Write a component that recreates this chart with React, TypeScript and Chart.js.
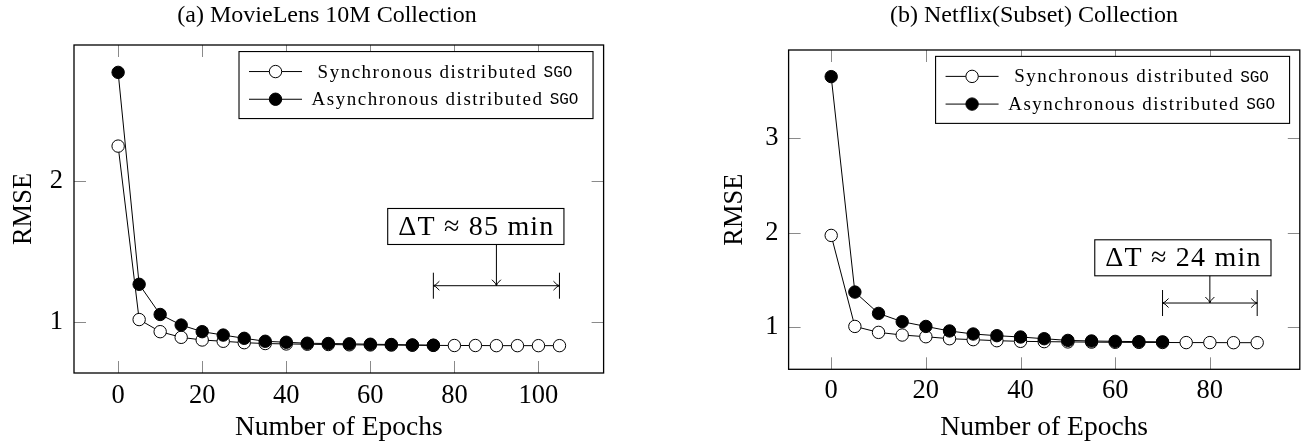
import React, { useEffect, useRef } from "react";
import { Chart, registerables } from "chart.js";
Chart.register(...registerables);

const SERIF = '"Liberation Serif", "Times New Roman", serif';
const MONO = '"Liberation Mono", "DejaVu Sans Mono", monospace';

// ---------- data ----------
const movieSyncEpochs = [0, 5, 10, 15, 20, 25, 30, 35, 40, 45, 50, 55, 60, 65, 70, 75, 80, 85, 90, 95, 100, 105];
const movieSyncRmse = [2.25, 1.02, 0.934, 0.894, 0.875, 0.866, 0.856, 0.85, 0.847, 0.845, 0.843, 0.841, 0.84, 0.839, 0.838, 0.837, 0.836, 0.836, 0.835, 0.835, 0.835, 0.835];
const movieAsyncEpochs = [0, 5, 10, 15, 20, 25, 30, 35, 40, 45, 50, 55, 60, 65, 70, 75];
const movieAsyncRmse = [2.773, 1.27, 1.056, 0.981, 0.934, 0.91, 0.887, 0.866, 0.859, 0.852, 0.85, 0.848, 0.845, 0.843, 0.84, 0.838];

const netflixSyncEpochs = [0, 5, 10, 15, 20, 25, 30, 35, 40, 45, 50, 55, 60, 65, 70, 75, 80, 85, 90];
const netflixSyncRmse = [1.97, 1.006, 0.943, 0.915, 0.897, 0.876, 0.866, 0.855, 0.848, 0.845, 0.842, 0.84, 0.838, 0.837, 0.836, 0.835, 0.835, 0.834, 0.834];
const netflixAsyncEpochs = [0, 5, 10, 15, 20, 25, 30, 35, 40, 45, 50, 55, 60, 65, 70];
const netflixAsyncRmse = [3.652, 1.37, 1.144, 1.056, 1.006, 0.958, 0.926, 0.908, 0.894, 0.876, 0.858, 0.852, 0.848, 0.845, 0.843];

const movieXTicks = [0, 20, 40, 60, 80, 100];
const movieYTicks = [1, 2];
const netflixXTicks = [0, 20, 40, 60, 80];
const netflixYTicks = [1, 2, 3];

const seriesNames = ["Synchronous distributed", "Asynchronous distributed"];
const seriesSuffix = "SGO";
const xAxisTitle = "Number of Epochs";
const yAxisTitle = "RMSE";
const movieTitle = "(a) MovieLens 10M Collection";
const netflixTitle = "(b) Netflix(Subset) Collection";
const movieDelta = "ΔT ≈ 85 min";
const netflixDelta = "ΔT ≈ 24 min";

// ---------- panel configuration ----------
type Annot = { text: string; boxX: number; boxY: number; arrowX: number; x1: number; x2: number; lineY: number };
type PanelCfg = {
  left: number; width: number;
  area: { l: number; t: number; r: number; b: number };
  xMin: number; xMax: number; yMin: number; yMax: number;
  xTicks: number[]; yTicks: number[];
  syncX: number[]; syncY: number[]; asyncX: number[]; asyncY: number[];
  title: string; titleX: number; titleY: number;
  yTitlePad: number; yTickPad: number; xTickPad: number;
  annot: Annot;
};

const H = 444;

const movieCfg: PanelCfg = {
  left: 0, width: 650,
  area: { l: 74, t: 45, r: 603.6, b: 373 },
  xMin: -10.5, xMax: 115.5, yMin: 0.641, yMax: 2.967,
  xTicks: movieXTicks, yTicks: movieYTicks,
  syncX: movieSyncEpochs, syncY: movieSyncRmse, asyncX: movieAsyncEpochs, asyncY: movieAsyncRmse,
  title: movieTitle, titleX: 327, titleY: 16,
  yTitlePad: 7.7, yTickPad: 11, xTickPad: 7,
  annot: { text: movieDelta, boxX: 85.1, boxY: 1.68, arrowX: 90, x1: 75, x2: 105, lineY: 1.26 },
};

const netflixCfg: PanelCfg = {
  left: 655, width: 652,
  area: { l: 133.6, t: 50, r: 649, b: 369.3 },
  xMin: -9, xMax: 99, yMin: 0.552, yMax: 3.934,
  xTicks: netflixXTicks, yTicks: netflixYTicks,
  syncX: netflixSyncEpochs, syncY: netflixSyncRmse, asyncX: netflixAsyncEpochs, asyncY: netflixAsyncRmse,
  title: netflixTitle, titleX: 379, titleY: 16,
  yTitlePad: 64.4, yTickPad: 10, xTickPad: 6,
  annot: { text: netflixDelta, boxX: 74.3, boxY: 1.733, arrowX: 80, x1: 70, x2: 90, lineY: 1.254 },
};

function arrowHead(ctx: CanvasRenderingContext2D, x: number, y: number, dx: number, dy: number) {
  const len = 6, wid = 4.5;
  const px = -dy, py = dx;
  ctx.beginPath();
  ctx.moveTo(x - dx * len + px * wid, y - dy * len + py * wid);
  ctx.quadraticCurveTo(x - dx * 2, y - dy * 2, x, y);
  ctx.quadraticCurveTo(x - dx * 2, y - dy * 2, x - dx * len - px * wid, y - dy * len - py * wid);
  ctx.stroke();
}

function makeOverlay(cfg: PanelCfg) {
  return {
    id: "overlay",
    afterDraw(chart: any) {
      const ctx: CanvasRenderingContext2D = chart.ctx;
      const ca = chart.chartArea;
      const xs = chart.scales.x;
      const ys = chart.scales.y;
      ctx.save();
      // inside tick marks on all four sides
      ctx.strokeStyle = "#8a8a8a";
      ctx.lineWidth = 1;
      const tl = 12;
      for (const v of cfg.xTicks) {
        const px = Math.round(xs.getPixelForValue(v)) + 0.5;
        ctx.beginPath();
        ctx.moveTo(px, ca.bottom); ctx.lineTo(px, ca.bottom - tl);
        ctx.moveTo(px, ca.top); ctx.lineTo(px, ca.top + tl);
        ctx.stroke();
      }
      for (const v of cfg.yTicks) {
        const py = Math.round(ys.getPixelForValue(v)) + 0.5;
        ctx.beginPath();
        ctx.moveTo(ca.left, py); ctx.lineTo(ca.left + tl, py);
        ctx.moveTo(ca.right, py); ctx.lineTo(ca.right - tl, py);
        ctx.stroke();
      }
      // frame
      ctx.strokeStyle = "#000";
      ctx.lineWidth = 1.3;
      ctx.strokeRect(ca.left, ca.top, ca.right - ca.left, ca.bottom - ca.top);

      // title
      ctx.fillStyle = "#000";
      ctx.font = `24px ${SERIF}`;
      ctx.textAlign = "center";
      ctx.textBaseline = "middle";
      ctx.fillText(cfg.title, cfg.titleX, cfg.titleY);

      // legend (anchored at 98% / 98% of the axis box)
      const w = ca.right - ca.left, h = ca.bottom - ca.top;
      const lr = ca.right - 0.02 * w;
      const lt = ca.top + 0.02 * h;
      const lw = 354, lh = 67;
      const ll = lr - lw;
      ctx.fillStyle = "#fff";
      ctx.fillRect(ll, lt, lw, lh);
      ctx.strokeStyle = "#000";
      ctx.lineWidth = 1.1;
      ctx.strokeRect(ll, lt, lw, lh);
      for (let i = 0; i < 2; i++) {
        const ry = lt + 20 + i * 27.7;
        ctx.strokeStyle = "#000";
        ctx.lineWidth = 1;
        ctx.beginPath();
        ctx.moveTo(ll + 10, ry); ctx.lineTo(ll + 63, ry);
        ctx.stroke();
        ctx.beginPath();
        ctx.arc(ll + 36.5, ry, 6.2, 0, Math.PI * 2);
        ctx.fillStyle = i === 0 ? "#fff" : "#000";
        ctx.fill();
        ctx.stroke();
        ctx.textAlign = "left";
        ctx.textBaseline = "middle";
        ctx.fillStyle = "#000";
        (ctx as any).letterSpacing = "1.5px";
        ctx.font = `19px ${SERIF}`;
        const main = seriesNames[i] + " ";
        const mw = ctx.measureText(main).width;
        (ctx as any).letterSpacing = "0px";
        ctx.font = `16px ${MONO}`;
        const sw = ctx.measureText(seriesSuffix).width;
        const areaL = ll + 68, areaR = lr - 10;
        const sx = areaL + (areaR - areaL - (mw + sw)) / 2;
        (ctx as any).letterSpacing = "1.5px";
        ctx.font = `19px ${SERIF}`;
        ctx.fillText(main, sx, ry + 1);
        (ctx as any).letterSpacing = "0px";
        ctx.font = `16px ${MONO}`;
        ctx.fillText(seriesSuffix, sx + mw, ry + 1);
      }

      // annotation
      const a = cfg.annot;
      (ctx as any).letterSpacing = "1.2px";
      ctx.font = `28px ${SERIF}`;
      const tw = ctx.measureText(a.text).width;
      const bw = tw + 20, bh = 36;
      const bcx = xs.getPixelForValue(a.boxX), bcy = ys.getPixelForValue(a.boxY);
      ctx.fillStyle = "#fff";
      ctx.fillRect(bcx - bw / 2, bcy - bh / 2, bw, bh);
      ctx.strokeStyle = "#000";
      ctx.lineWidth = 1.1;
      ctx.strokeRect(bcx - bw / 2, bcy - bh / 2, bw, bh);
      ctx.fillStyle = "#000";
      ctx.textAlign = "center";
      ctx.textBaseline = "middle";
      ctx.fillText(a.text, bcx + 0.6, bcy + 1);
      (ctx as any).letterSpacing = "0px";
      const ax = xs.getPixelForValue(a.arrowX);
      const ly = ys.getPixelForValue(a.lineY);
      const x1 = xs.getPixelForValue(a.x1), x2 = xs.getPixelForValue(a.x2);
      ctx.lineWidth = 1;
      ctx.beginPath();
      ctx.moveTo(ax, bcy + bh / 2); ctx.lineTo(ax, ly);
      ctx.stroke();
      arrowHead(ctx, ax, ly, 0, 1);
      ctx.beginPath();
      ctx.moveTo(x1, ly); ctx.lineTo(x2, ly);
      ctx.moveTo(x1, ly - 13); ctx.lineTo(x1, ly + 13);
      ctx.moveTo(x2, ly - 13); ctx.lineTo(x2, ly + 13);
      ctx.stroke();
      arrowHead(ctx, x1, ly, -1, 0);
      arrowHead(ctx, x2, ly, 1, 0);
      ctx.restore();
    },
  };
}

function Panel({ cfg }: { cfg: PanelCfg }) {
  const ref = useRef<HTMLCanvasElement>(null);
  useEffect(() => {
    const toPts = (xs: number[], ys: number[]) => xs.map((x, i) => ({ x, y: ys[i] }));
    const chart = new Chart(ref.current!, {
      type: "line",
      data: {
        datasets: [
          {
            label: seriesNames[0] + " " + seriesSuffix,
            data: toPts(cfg.syncX, cfg.syncY),
            borderColor: "#000", borderWidth: 1, tension: 0,
            pointRadius: 6.2, pointBorderWidth: 1,
            pointBackgroundColor: "#fff", pointBorderColor: "#000",
            order: 1,
          },
          {
            label: seriesNames[1] + " " + seriesSuffix,
            data: toPts(cfg.asyncX, cfg.asyncY),
            borderColor: "#000", borderWidth: 1, tension: 0,
            pointRadius: 6.2, pointBorderWidth: 1,
            pointBackgroundColor: "#000", pointBorderColor: "#000",
            order: 0,
          },
        ],
      },
      options: {
        animation: false,
        responsive: false,
        events: [],
        layout: { padding: { left: 0, top: cfg.area.t, right: cfg.width - cfg.area.r, bottom: 0 } },
        plugins: { legend: { display: false }, tooltip: { enabled: false }, title: { display: false } },
        scales: {
          x: {
            type: "linear", position: "bottom", bounds: "data",
            min: cfg.xMin, max: cfg.xMax,
            afterBuildTicks: (s: any) => { s.ticks = cfg.xTicks.map((v) => ({ value: v })); },
            afterFit: (s: any) => { s.height = H - cfg.area.b; },
            grid: { display: false, drawTicks: false },
            border: { display: false },
            ticks: { padding: cfg.xTickPad, color: "#000", font: { family: SERIF, size: 26.5 }, autoSkip: false, maxRotation: 0 },
            title: { display: true, text: xAxisTitle, color: "#000", font: { family: SERIF, size: 27.5 }, padding: { top: 0, bottom: 0 } },
          },
          y: {
            type: "linear", position: "left", bounds: "data",
            min: cfg.yMin, max: cfg.yMax,
            afterBuildTicks: (s: any) => { s.ticks = cfg.yTicks.map((v) => ({ value: v })); },
            afterFit: (s: any) => { s.width = cfg.area.l; },
            grid: { display: false, drawTicks: false },
            border: { display: false },
            ticks: { padding: cfg.yTickPad, color: "#000", font: { family: SERIF, size: 26.5 }, autoSkip: false },
            title: { display: true, text: yAxisTitle, color: "#000", font: { family: SERIF, size: 26.5 }, padding: { top: cfg.yTitlePad, bottom: 0 } },
          },
        },
      },
      plugins: [makeOverlay(cfg)],
    } as any);
    return () => chart.destroy();
  }, [cfg]);
  return (
    <canvas
      ref={ref}
      width={cfg.width}
      height={H}
      style={{ position: "absolute", left: cfg.left, top: 0, width: cfg.width, height: H }}
    />
  );
}

export default function App() {
  return (
    <div style={{ position: "fixed", left: 0, top: 0, width: 1307, height: H, background: "#fff" }}>
      <Panel cfg={movieCfg} />
      <Panel cfg={netflixCfg} />
    </div>
  );
}
